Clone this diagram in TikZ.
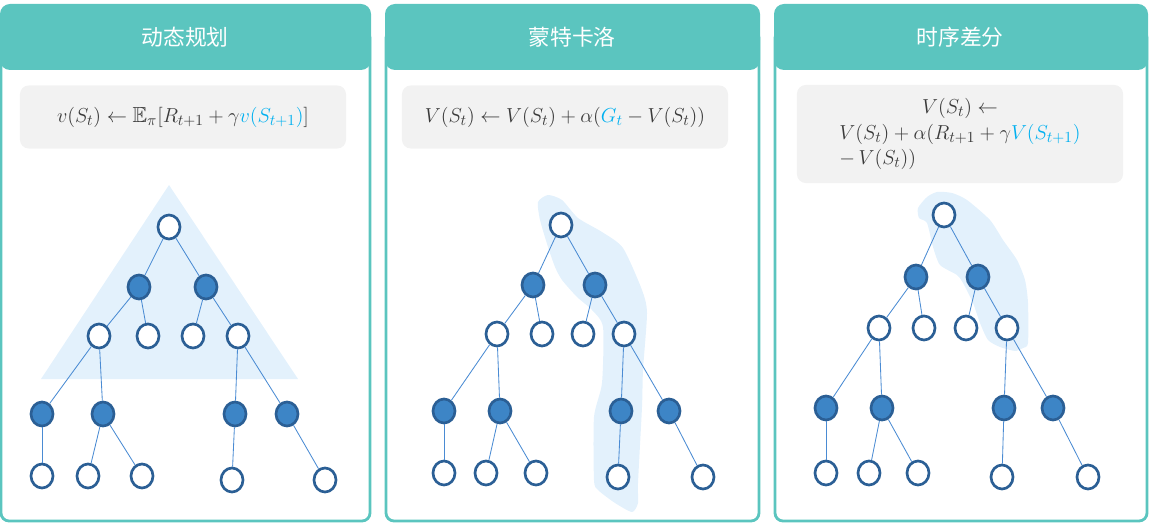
\documentclass[tikz,border=0pt]{standalone}
\usepackage{amssymb}
\usepackage{fontspec}
\newfontfamily\cjk{Noto Sans CJK SC}
\usetikzlibrary{shapes.geometric}
\definecolor{headteal}{HTML}{5BC5BF}
\definecolor{nodeblue}{HTML}{3D85C6}
\definecolor{rimblue}{HTML}{2B5F95}
\definecolor{edgeblue}{HTML}{4A8BD3}
\definecolor{shadeblue}{HTML}{E3F1FC}
\definecolor{boxgray}{HTML}{F2F2F2}
\definecolor{mathgray}{HTML}{3A3A3A}
\definecolor{hiblue}{HTML}{00B0F0}
\begin{document}
\begin{tikzpicture}[x=0.025cm, y=-0.025cm,
  state node/.style={ellipse,draw=rimblue,fill=white,line width=1.9pt,minimum width=0.55cm,minimum height=0.6cm,inner sep=0pt},
  action node/.style={state node,fill=nodeblue},
  panel/.style={draw=headteal,line width=2pt,rounded corners=0.2cm},
  head/.style={fill=headteal,rounded corners=0.25cm},
  title/.style={text=white,font=\cjk\fontsize{15.5}{18}\selectfont},
  formula/.style={fill=boxgray,rounded corners=0.22cm,text=mathgray,font=\fontsize{15.5}{18}\selectfont,minimum width=8.15cm,minimum height=1.575cm,inner sep=0pt},
  link/.style={draw=edgeblue,line width=0.6pt}]
\useasboundingbox (0,0) rectangle (1155,530);
% panels
\draw[panel] (1,30) rectangle (370,521);
\draw[panel] (386,30) rectangle (759,521);
\draw[panel] (775,30) rectangle (1147,521);
\fill[head] (0,4) rectangle (371,70);
\fill[head] (385,4) rectangle (760,70);
\fill[head] (774,4) rectangle (1148,70);
\node[title] (h1) at (185,37) {动态规划};
\node[title] (h2) at (572,37) {蒙特卡洛};
\node[title] (h3) at (960,37) {时序差分};
% update rules
\node[formula] (f1) at (183,117) {$v(S_t)\leftarrow\mathbb{E}_\pi[R_{t+1}+\gamma\textcolor{hiblue}{v(S_{t+1})}]$};
\node[formula] (f2) at (565,117) {$V(S_t)\leftarrow V(S_t)+\alpha(\textcolor{hiblue}{G_t}-V(S_t))$};
\node[formula,minimum height=2.45cm] (f3) at (960,134) {\begin{tabular}{@{}l@{}}
  \multicolumn{1}{@{}c@{}}{$V(S_t)\leftarrow$}\\
  $V(S_t)+\alpha(R_{t+1}+\gamma\textcolor{hiblue}{V(S_{t+1})}$\\
  $-\,V(S_t))$
\end{tabular}};
% backup regions
\fill[shadeblue] (169,185) -- (298,379) -- (41,379) -- cycle;
\fill[shadeblue] plot[smooth cycle,tension=0.4] coordinates {(538,202) (548,195) (562,200) (578,218) (602,232) (623,248) (642,290) (647,313) (643,370) (642,407) (638,483) (638,503) (632,512) (615,503) (598,490) (594,480) (594,417) (602,383) (603,327) (592,310) (577,297) (562,280) (555,267) (548,247) (540,220)};
\fill[shadeblue] plot[smooth cycle,tension=0.4] coordinates {(918,208) (927,197) (937,192) (952,193) (967,200) (990,220) (1003,240) (1017,260) (1025,280) (1028,303) (1028,343) (1023,348) (1015,351) (1000,347) (988,340) (980,323) (973,303) (963,283) (957,275) (940,265) (933,247) (927,223) (919,218)};
% dynamic programming tree
\node[state node] (d1) at (169,227) {};
\node[action node] (d2) at (139,287) {};
\node[action node] (d3) at (206,287) {};
\node[state node] (d4) at (99,336) {};
\node[state node] (d5) at (148,336) {};
\node[state node] (d6) at (193,336) {};
\node[state node] (d7) at (238,336) {};
\node[action node] (d8) at (42,414) {};
\node[action node] (d9) at (103,414) {};
\node[action node] (d10) at (235,414) {};
\node[action node] (d11) at (287,414) {};
\node[state node] (d12) at (42,476) {};
\node[state node] (d13) at (88,476) {};
\node[state node] (d14) at (142,476) {};
\node[state node] (d15) at (232,480) {};
\node[state node] (d16) at (325,480) {};
% monte carlo tree
\node[state node] (m1) at (561,225) {};
\node[action node] (m2) at (533,285) {};
\node[action node] (m3) at (595,285) {};
\node[state node] (m4) at (497,334) {};
\node[state node] (m5) at (542,334) {};
\node[state node] (m6) at (583,334) {};
\node[state node] (m7) at (624,334) {};
\node[action node] (m8) at (444,411) {};
\node[action node] (m9) at (500,411) {};
\node[action node] (m10) at (621,411) {};
\node[action node] (m11) at (669,411) {};
\node[state node] (m12) at (444,473) {};
\node[state node] (m13) at (486,473) {};
\node[state node] (m14) at (536,473) {};
\node[state node] (m15) at (618,477) {};
\node[state node] (m16) at (703,477) {};
% temporal difference tree
\node[state node] (t1) at (944,215) {};
\node[action node] (t2) at (916,277) {};
\node[action node] (t3) at (978,277) {};
\node[state node] (t4) at (879,328) {};
\node[state node] (t5) at (924,328) {};
\node[state node] (t6) at (966,328) {};
\node[state node] (t7) at (1007,328) {};
\node[action node] (t8) at (826,408) {};
\node[action node] (t9) at (882,408) {};
\node[action node] (t10) at (1004,408) {};
\node[action node] (t11) at (1053,408) {};
\node[state node] (t12) at (826,473) {};
\node[state node] (t13) at (869,473) {};
\node[state node] (t14) at (918,473) {};
\node[state node] (t15) at (1002,477) {};
\node[state node] (t16) at (1088,477) {};
\path[link]
	(d1) edge (d2) (d1) edge (d3)
	(d2) edge (d4) (d2) edge (d5)
	(d3) edge (d6) (d3) edge (d7)
	(d4) edge (d8) (d4) edge (d9)
	(d7) edge (d10) (d7) edge (d11)
	(d8) edge (d12) (d9) edge (d13) (d9) edge (d14)
	(d10) edge (d15) (d11) edge (d16)
	;
\path[link]
	(m1) edge (m2) (m1) edge (m3)
	(m2) edge (m4) (m2) edge (m5)
	(m3) edge (m6) (m3) edge (m7)
	(m4) edge (m8) (m4) edge (m9)
	(m7) edge (m10) (m7) edge (m11)
	(m8) edge (m12) (m9) edge (m13) (m9) edge (m14)
	(m10) edge (m15) (m11) edge (m16)
	;
\path[link]
	(t1) edge (t2) (t1) edge (t3)
	(t2) edge (t4) (t2) edge (t5)
	(t3) edge (t6) (t3) edge (t7)
	(t4) edge (t8) (t4) edge (t9)
	(t7) edge (t10) (t7) edge (t11)
	(t8) edge (t12) (t9) edge (t13) (t9) edge (t14)
	(t10) edge (t15) (t11) edge (t16)
	;
\end{tikzpicture}
\end{document}
